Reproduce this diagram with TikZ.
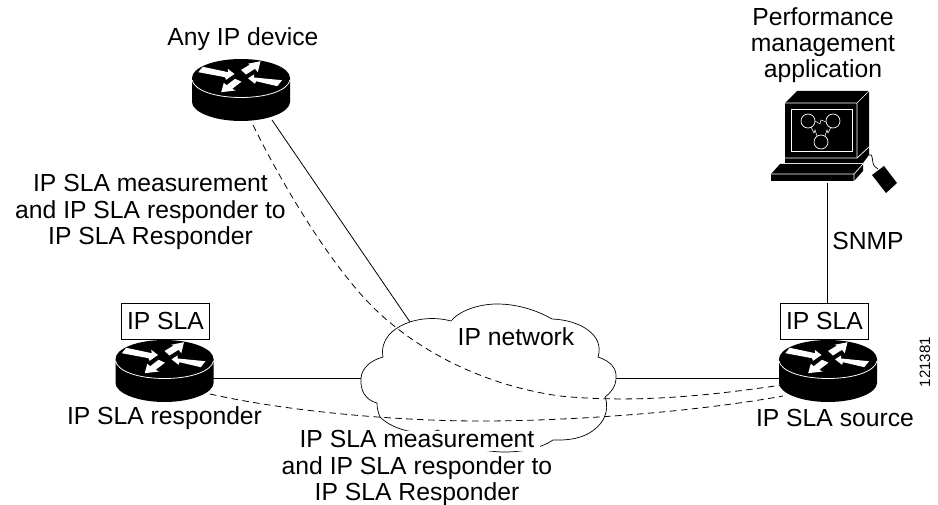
\documentclass[tikz,border=0pt]{standalone}
\usepackage{fontspec}
\setmainfont{Liberation Sans}
\tikzset{
  lbl/.style={font=\fontsize{24.7}{26.3}\selectfont, align=center, inner sep=0pt},
  slabox/.style={draw, line width=0.7pt, fill=white, minimum width=88pt, minimum height=36pt, inner sep=0pt, font=\fontsize{24.7}{26.3}\selectfont},
  link/.style={line width=0.8pt},
  dashlink/.style={line width=0.8pt, dash pattern=on 6.5pt off 4.5pt},
  pics/router/.style={code={
    \fill[black] (-49,0) -- (-49,24) .. controls (-49,34) and (-27,43) .. (0,43) .. controls (27,43) and (49,34) .. (49,24) -- (49,0) .. controls (49,-10.5) and (27,-19) .. (0,-19) .. controls (-27,-19) and (-49,-10.5) .. (-49,0) -- cycle;
    \draw[white,line width=0.8pt] (-49,2) .. controls (-47,12) and (-27,19.5) .. (0,19.5) .. controls (27,19.5) and (47,12) .. (49,2);
    \fill[white] (-38.3,-11.2) -- (-12.7,-5.8) -- (-13.3,-9.2) -- (-6.5,-4) -- (-15,1.8) -- (-16,-0.8) -- (-42.7,-5.8) -- cycle;
    \fill[white] (0,-8) -- (9,-13.5) -- (6.7,-14.2) -- (19.5,-16.8) -- (16.8,-5.8) -- (14,-9.2) -- (5,-3.5) -- cycle;
    \fill[white] (7,0.3) -- (13,-3.5) -- (13,-0.5) -- (41,2.2) -- (36.3,8.2) -- (15,3.2) -- (14,5.8) -- cycle;
    \fill[white] (-19.8,14.2) -- (-17.2,4.8) -- (-14.3,7.2) -- (-6,0.8) -- (0.5,3.7) -- (-8.8,10.8) -- (-5.5,12.5) -- cycle;
  }},
}
\begin{document}
\begin{tikzpicture}[x=1pt,y=-1pt]
\useasboundingbox (0,0) rectangle (938,505);
\fill[white] (0,0) rectangle (938,505);

% named anchor points
\coordinate (anyC) at (241,78);
\coordinate (respC) at (164.5,359);
\coordinate (srcC) at (828,359);
\coordinate (anyS) at (272,120);
\coordinate (anyD) at (253,125);
\coordinate (respE) at (213,378);
\coordinate (respD) at (210,394);
\coordinate (srcW) at (780,378);
\coordinate (srcD1) at (782,385);
\coordinate (srcD2) at (783,396);
\coordinate (cloudL) at (361,378);
\coordinate (cloudR) at (616,378);
\coordinate (cloudT) at (410,322);
\coordinate (pcB) at (827,183);
\coordinate (srcTop) at (827,303);

% links under cloud
\draw[link] (anyS) -- (cloudT);
\draw[link] (respE) -- (cloudL);
\draw[link] (cloudR) -- (srcW);
\draw[link] (pcB) -- (srcTop);

% cloud
\draw[line width=0.7pt, fill=white]
  (410,322) .. controls (425,317) and (440,318) .. (451,321)
  .. controls (460,310) and (480,304) .. (497,304)
  .. controls (520,304) and (540,312) .. (552,319)
  .. controls (580,320) and (605,335) .. (598,357)
  .. controls (610,361) and (617,368) .. (616,378)
  .. controls (616,386) and (611,393) .. (605,397)
  .. controls (608,405) and (607,412) .. (603,420)
  .. controls (594,434) and (578,441) .. (553,440)
  .. controls (540,449) and (520,452) .. (505,452)
  .. controls (480,452) and (455,444) .. (438,430)
  .. controls (425,436) and (395,432) .. (380,417)
  .. controls (378,412) and (377,408) .. (377,403)
  .. controls (365,400) and (360,390) .. (361,378)
  .. controls (362,367) and (372,360) .. (383,357)
  .. controls (380,340) and (392,328) .. (410,322) -- cycle;

% dashed measurement paths
\draw[dashlink] (anyD) .. controls (275,170) and (320,250) .. (366,300)
  .. controls (410,347) and (480,385) .. (560,396)
  .. controls (640,404) and (720,394) .. (srcD1);
\draw[dashlink] (respD) .. controls (290,412) and (400,421) .. (480,421)
  .. controls (580,421) and (700,411) .. (srcD2);

% routers
\pic at (anyC) {router};
\pic at (respC) {router};
\pic at (srcC) {router};

% computer
\fill[black] (785,103) -- (797,91) -- (869,91) -- (869,155) -- (863,163) -- (785,163) -- cycle;
\draw[white,line width=0.7pt] (785,103) -- (857,103) -- (869,91) (857,103) -- (857,158);
\draw[white,line width=0.7pt] (791,109) rectangle (852,151);
\draw[white,line width=0.7pt] (869,147) -- (857,158) -- (785,158);
\draw[white,line width=0.7pt] (808,121) circle[radius=7] (833,121) circle[radius=7] (821,142) circle[radius=7];
\draw[white,line width=0.5pt] (815,121) -- (820,124) -- (821,120) -- (826,122);
\draw[white,line width=0.5pt] (811,127) -- (814,133) -- (815,130) -- (817,136);
\draw[white,line width=0.5pt] (831,127) -- (828,133) -- (827,130) -- (825,136);
\fill[black] (780,164) -- (863,164) -- (863,171) -- (854,181) -- (771,181) -- (771,174) -- cycle;
\draw[white,line width=0.7pt] (771,174) -- (854,174) -- (863,164) (854,174) -- (854,181);
\draw[black,line width=0.7pt] (869,155) .. controls (873,153) and (872,160) .. (873,163) .. controls (874,167) and (876,167) .. (878,169);
\fill[black] (872,175) -- (884,166) -- (897,183) -- (886,193) -- cycle;

% boxes
\node[slabox] (srcBox) at (824.5,321) {IP SLA};
\node[slabox] (respBox) at (165.5,321) {IP SLA};

% mask behind the first line of the lower label
\fill[white] (402,431) rectangle (540,451);

% labels
\node[lbl] (l1) at (243,39) {Any IP device};
\node[lbl] (l2) at (823,45) {Performance\\management\\application};
\node[lbl] (l3) at (868,241) {SNMP};
\node[lbl] (l4) at (150.5,212) {IP SLA measurement\\and IP SLA responder to\\IP SLA Responder};
\node[lbl] (l5) at (164.5,418) {IP SLA responder};
\node[lbl] (l6) at (835,418) {IP SLA source};
\node[lbl] (l7) at (516,337) {IP network};
\node[lbl] (l8) at (417,468) {IP SLA measurement\\and IP SLA responder to\\IP SLA Responder};
\node[lbl, font=\fontsize{15}{17}\selectfont, rotate=90] (l9) at (925,362) {121381};
\end{tikzpicture}
\end{document}
